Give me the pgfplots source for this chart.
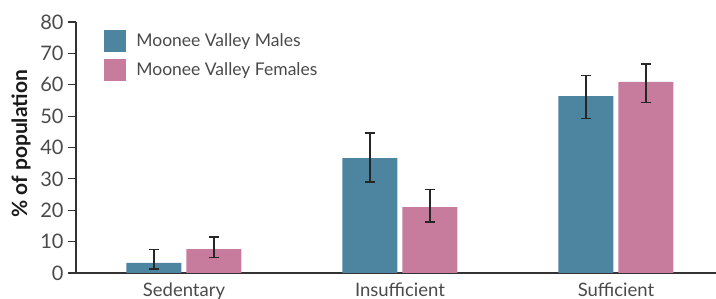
\documentclass[border=0pt]{standalone}
\usepackage{fontspec}
\setmainfont{Lato}
\usepackage{pgfplots}
\pgfplotsset{compat=1.18}
\definecolor{males}{HTML}{4D84A0}
\definecolor{females}{HTML}{C87C9D}
\definecolor{txt}{HTML}{4A4A4A}
\definecolor{axc}{HTML}{333333}
\begin{document}
\begin{tikzpicture}
\path[use as bounding box] (0,0) rectangle (716pt,299pt);
\begin{axis}[
  at={(76pt,26pt)}, anchor=south west,
  scale only axis, width=640pt, height=251pt,
  xmin=-0.5, xmax=2.463, ymin=0, ymax=80,
  axis x line=bottom, axis y line=left,
  axis line style={axc, line width=1.2pt, -},
  xtick={0,1,2}, xticklabels={Sedentary,Insufficient,Sufficient},
  xtick style={draw=none},
  minor xtick={-0.5,0.5,1.5,2.5},
  minor tick length=10pt,
  minor x tick style={axc, line width=1.2pt},
  ytick={0,10,...,80},
  major tick length=8pt,
  ytick style={axc, line width=1.2pt},
  tick align=outside,
  /pgf/number format/assume math mode=true,
  tick label style={font=\fontsize{20}{20}\selectfont, text=txt},
  yticklabel style={xshift=-1pt},
  xticklabel style={yshift=2pt, font=\fontsize{18.5}{18.5}\selectfont},
  ylabel={\% of population},
  ylabel style={font=\fontsize{21}{21}\selectfont\bfseries, text=black!90, at={(axis description cs:-0.086,0.515)}, anchor=center},
  ybar, bar width=55pt,
  legend style={at={(axis description cs:0.044,0.968)}, anchor=north west, draw=none, fill=none, inner sep=0pt, row sep=7pt, font=\fontsize{17.5}{17.5}\selectfont, text=txt, cells={anchor=west}},
  legend image code/.code={\fill[#1] (0pt,-11pt) rectangle (22pt,11pt);},
  legend cell align=left,
  error bars/y dir=both, error bars/y explicit,
  error bars/error bar style={black!85, line width=1.3pt},
  error bars/error mark options={rotate=90, mark size=5pt, line width=1.3pt, black!85},
]
\addplot[fill=males, draw=none, bar shift=-30pt] coordinates {
  (0,3.2) += (0,4.3) -= (0,1.9)
  (1,36.6) += (0,8.0) -= (0,7.6)
  (2,56.4) += (0,6.5) -= (0,7.1)
};
\addplot[fill=females, draw=none, bar shift=30pt] coordinates {
  (0,7.6) += (0,3.9) -= (0,2.7)
  (1,21.0) += (0,5.6) -= (0,4.7)
  (2,60.9) += (0,5.7) -= (0,6.5)
};
\legend{\hspace{8pt}Moonee Valley Males,\hspace{8pt}Moonee Valley Females}
\end{axis}
\end{tikzpicture}
\end{document}
